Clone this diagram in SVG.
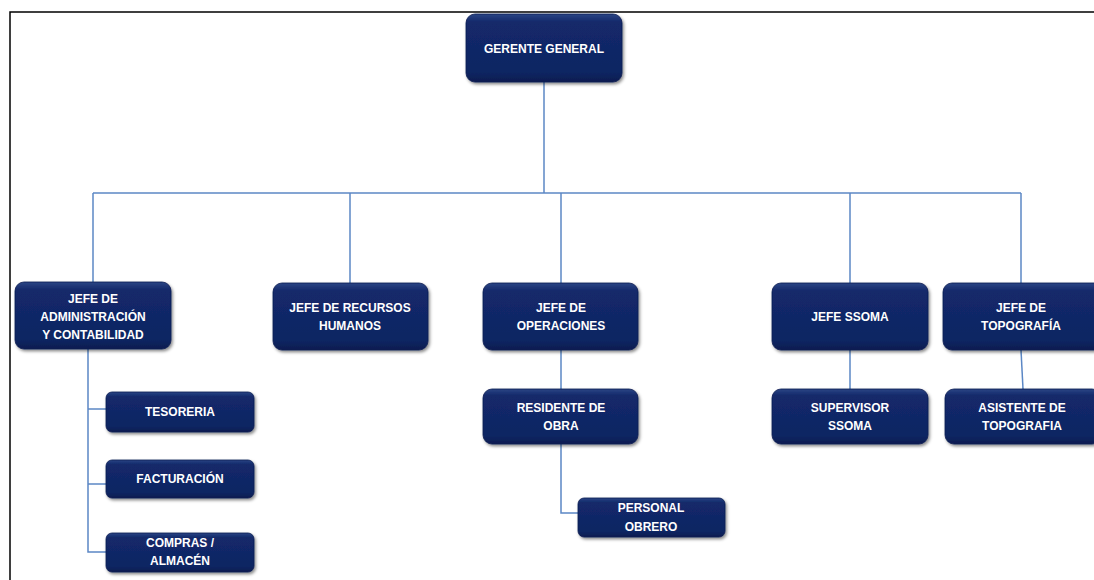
<svg xmlns="http://www.w3.org/2000/svg" width="1094" height="580" viewBox="0 0 1094 580">
  <defs>
    <linearGradient id="g" x1="0" y1="0" x2="0" y2="1">
      <stop offset="0" stop-color="#2a4585"/>
      <stop offset="0.12" stop-color="#13296a"/>
      <stop offset="0.85" stop-color="#0f2663"/>
      <stop offset="1" stop-color="#0a1c50"/>
    </linearGradient>
    <filter id="sh" x="-10%" y="-10%" width="130%" height="140%">
      <feDropShadow dx="1.5" dy="2" stdDeviation="1.8" flood-color="#000" flood-opacity="0.45"/>
    </filter>
    <style>
      .box { fill: url(#g); stroke: #0a1c50; stroke-width: 0.8; filter: url(#sh); }
      .t { fill: #ffffff; font-family: "Liberation Sans", Arial, sans-serif; font-weight: bold; font-size: 12px; text-anchor: middle; }
      .c { fill: none; stroke: #5b87c5; stroke-width: 1.5; }
      .frame { fill: none; stroke: #000; stroke-width: 1.5; }
    </style>
  </defs>
  <rect width="1094" height="580" fill="#ffffff"/>
  <path class="frame" d="M10,580 V12 H1094"/>

  <g id="connectors">
    <path class="c" d="M544,82 V193"/>
    <path class="c" d="M93,193 H1021"/>
    <path class="c" d="M93,193 V282"/>
    <path class="c" d="M350,193 V283"/>
    <path class="c" d="M561,193 V283"/>
    <path class="c" d="M850,193 V283"/>
    <path class="c" d="M1021,193 V283"/>
    <path class="c" d="M88,349 V552 H106"/>
    <path class="c" d="M88,409 H106"/>
    <path class="c" d="M88,484 H106"/>
    <path class="c" d="M561,350 V389"/>
    <path class="c" d="M561,444 V513 H578"/>
    <path class="c" d="M850,350 V389"/>
    <path class="c" d="M1021,350 L1023,389"/>
  </g>

  <g id="gerente">
    <rect class="box" x="466" y="14" width="156" height="68" rx="9"/>
    <text class="t" x="544" y="53">GERENTE GENERAL</text>
  </g>
  <g id="admin">
    <rect class="box" x="15" y="282" width="156" height="67" rx="9"/>
    <text class="t" x="93" y="303">JEFE DE</text>
    <text class="t" x="93" y="321">ADMINISTRACIÓN</text>
    <text class="t" x="93" y="339">Y CONTABILIDAD</text>
  </g>
  <g id="rrhh">
    <rect class="box" x="273" y="283" width="155" height="67" rx="9"/>
    <text class="t" x="350" y="312">JEFE DE RECURSOS</text>
    <text class="t" x="350" y="330">HUMANOS</text>
  </g>
  <g id="operaciones">
    <rect class="box" x="483" y="283" width="155" height="67" rx="9"/>
    <text class="t" x="561" y="312">JEFE DE</text>
    <text class="t" x="561" y="330">OPERACIONES</text>
  </g>
  <g id="ssoma">
    <rect class="box" x="772" y="283" width="156" height="67" rx="9"/>
    <text class="t" x="850" y="321">JEFE SSOMA</text>
  </g>
  <g id="topografia">
    <rect class="box" x="943" y="283" width="160" height="67" rx="9"/>
    <text class="t" x="1021" y="312">JEFE DE</text>
    <text class="t" x="1021" y="330">TOPOGRAFÍA</text>
  </g>
  <g id="tesoreria">
    <rect class="box" x="106" y="392" width="148" height="40" rx="6"/>
    <text class="t" x="180" y="416">TESORERIA</text>
  </g>
  <g id="facturacion">
    <rect class="box" x="106" y="460" width="148" height="38" rx="6"/>
    <text class="t" x="180" y="483">FACTURACIÓN</text>
  </g>
  <g id="compras">
    <rect class="box" x="106" y="533" width="148" height="39" rx="6"/>
    <text class="t" x="180" y="547">COMPRAS /</text>
    <text class="t" x="180" y="565">ALMACÉN</text>
  </g>
  <g id="residente">
    <rect class="box" x="483" y="389" width="155" height="55" rx="9"/>
    <text class="t" x="561" y="412">RESIDENTE DE</text>
    <text class="t" x="561" y="430">OBRA</text>
  </g>
  <g id="personal">
    <rect class="box" x="578" y="498" width="147" height="39" rx="6"/>
    <text class="t" x="651" y="512">PERSONAL</text>
    <text class="t" x="651" y="531">OBRERO</text>
  </g>
  <g id="supervisor">
    <rect class="box" x="772" y="389" width="156" height="55" rx="9"/>
    <text class="t" x="850" y="412">SUPERVISOR</text>
    <text class="t" x="850" y="430">SSOMA</text>
  </g>
  <g id="asistente">
    <rect class="box" x="945" y="389" width="156" height="55" rx="9"/>
    <text class="t" x="1022" y="412">ASISTENTE DE</text>
    <text class="t" x="1022" y="430">TOPOGRAFIA</text>
  </g>
</svg>
